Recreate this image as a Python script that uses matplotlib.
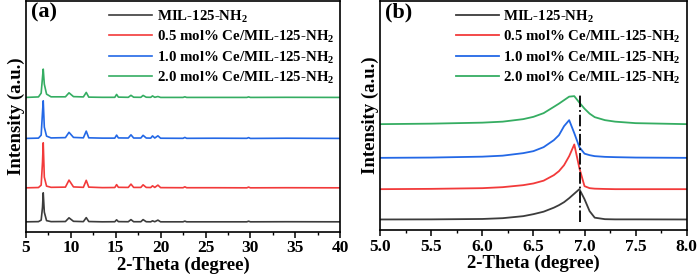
import numpy as np
import matplotlib
matplotlib.use('Agg')
import matplotlib.pyplot as plt
from matplotlib.ticker import MultipleLocator

plt.rcParams['font.family'] = ['Liberation Serif', 'DejaVu Serif']
plt.rcParams['font.weight'] = 'bold'
plt.rcParams['mathtext.fontset'] = 'custom'
plt.rcParams['mathtext.rm'] = 'Liberation Serif:bold'
plt.rcParams['mathtext.bf'] = 'Liberation Serif:bold'

labels = ['MIL-125-NH$_2$', '0.5 mol% Ce/MIL-125-NH$_2$',
          '1.0 mol% Ce/MIL-125-NH$_2$', '2.0 mol% Ce/MIL-125-NH$_2$']
colors = ['#3c3c3c', '#f23a3a', '#2368e6', '#35ad62']

# panel (a): full pattern, stacked (a.u.)
theta_a = [5.0, 6.4, 6.7, 6.85, 6.93, 7.05, 7.3, 7.8, 9.4, 9.8, 10.3, 11.4, 11.72, 12.0,
           13.5, 14.9, 15.1, 15.3, 16.4, 16.7, 17.0, 17.8, 18.05, 18.4, 18.9, 19.1, 19.35,
           19.7, 20.0, 22.5, 22.7, 22.9, 26.0, 29.6, 29.8, 30.0, 34.0, 40.0]
mil_a = [10.3, 10.5, 12, 25, 39.3, 20, 11.5, 10.5, 10.6, 14.3, 10.8, 10.5, 14.5, 10.6,
         10.3, 10.4, 12.3, 10.5, 10.4, 12.5, 10.4, 10.4, 12.5, 10.4, 10.3, 11.3, 10.4,
         12, 10.3, 10.3, 11, 10.3, 10.3, 10.3, 10.9, 10.3, 10.4, 10.3]
ce05_a = [44.3, 44.6, 47, 70, 89.3, 55, 46, 44.8, 45, 52, 45.2, 44.8, 51.8, 45,
          44.5, 44.6, 47.5, 44.8, 44.7, 48, 44.7, 44.7, 47.3, 44.7, 44.6, 46.3, 44.7,
          47, 44.5, 44.4, 45.3, 44.4, 44.4, 44.3, 45, 44.3, 44.4, 44.3]
ce10_a = [93.7, 94, 97, 120, 131.3, 105, 96, 94.2, 94.5, 99.8, 94.7, 94.3, 101, 94.3,
          94, 94, 97, 94.2, 94.1, 97.3, 94.1, 94.1, 96.8, 94.1, 94, 96.2, 94.1,
          96.3, 93.9, 93.8, 94.7, 93.8, 93.9, 93.8, 94.5, 93.7, 93.9, 93.7]
ce20_a = [134.7, 135.2, 139, 155, 163, 148, 138, 135.3, 135.3, 139.3, 135.5, 135.2, 139.7, 135,
          134.8, 134.8, 137.7, 135, 134.8, 136.8, 134.9, 134.8, 136.7, 134.9, 134.8, 136.2, 134.8,
          135.6, 134.7, 134.7, 135.3, 134.7, 134.7, 134.7, 135.2, 134.7, 134.8, 134.7]

# panel (b): zoom on the main peak
theta_b = [5.0, 5.5, 6.0, 6.2, 6.4, 6.5, 6.6, 6.7, 6.75, 6.8, 6.85, 6.9, 6.95, 7.0,
           7.05, 7.1, 7.2, 7.3, 7.5, 8.0]
mil_b = [10.7, 10.8, 11.2, 12, 14, 16, 18.5, 22.5, 25, 28, 32, 36.5, 41, 31,
         19, 12.5, 11, 10.8, 10.8, 10.7]
ce05_b = [41, 41.3, 42, 43, 45, 46.7, 49.5, 55, 59, 65, 74, 85.7, 62, 44,
          42, 41.5, 41.2, 41, 41, 41]
ce10_b = [72.3, 72.6, 73.5, 74.5, 77, 79, 83, 90, 95, 104, 110, 97, 83, 76.5,
          75, 74, 73.3, 73, 72.6, 72.3]
ce20_b = [106, 106.5, 107.5, 108.5, 111, 113.3, 117, 123.3, 126.5, 130, 133.5, 134, 127.5, 121.5,
          116.5, 113, 110, 108.5, 107, 106]
ref_peak = 6.955

fig = plt.figure(figsize=(7, 2.79), dpi=100)
ax1 = fig.add_axes([0.037, 0.168, 0.449, 0.828])
ax2 = fig.add_axes([0.543, 0.175, 0.438, 0.821])

for ys, c, lab in zip([mil_a, ce05_a, ce10_a, ce20_a], colors, labels):
    ax1.plot(theta_a, ys, color=c, lw=1.2, label=lab)
for ys, c, lab in zip([mil_b, ce05_b, ce10_b, ce20_b], colors, labels):
    ax2.plot(theta_b, ys, color=c, lw=1.3, label=lab)
ax2.plot([ref_peak, ref_peak], [8, 136], color='black', lw=1.3, ls='-.')

ax1.set_xlim(5, 40)
ax1.set_ylim(0, 231)
ax1.xaxis.set_major_locator(MultipleLocator(5))
ax1.xaxis.set_minor_locator(MultipleLocator(2.5))
ax2.set_xlim(5, 8)
ax2.set_ylim(0, 229)
ax2.xaxis.set_major_locator(MultipleLocator(0.5))
ax2.xaxis.set_minor_locator(MultipleLocator(0.25))
ax2.xaxis.set_major_formatter(matplotlib.ticker.FormatStrFormatter('%.1f'))

for ax, tag in [(ax1, '(a)'), (ax2, '(b)')]:
    ax.set_yticks([])
    for s in ax.spines.values():
        s.set_linewidth(1.2)
    ax.tick_params(axis='x', which='major', direction='out', length=4, width=1.1,
                   labelsize=12.5, pad=2)
    ax.tick_params(axis='x', which='minor', direction='out', length=2, width=1)
    ax.set_xlabel('2-Theta (degree)', fontsize=13.5, fontweight='bold', labelpad=0)
    ax.set_ylabel('Intensity (a.u.)', fontsize=13.5, fontweight='bold', labelpad=1)
    ax.text(0.015, 0.995, tag, transform=ax.transAxes, fontsize=16, fontweight='bold',
            va='top', ha='left')
    ax.legend(loc='upper right', frameon=False, fontsize=10.7, handlelength=2.9,
              handletextpad=0.3, labelspacing=0.25, borderaxespad=0.0,
              bbox_to_anchor=(1.0, 0.995))

fig.savefig('out.png', dpi=100)
